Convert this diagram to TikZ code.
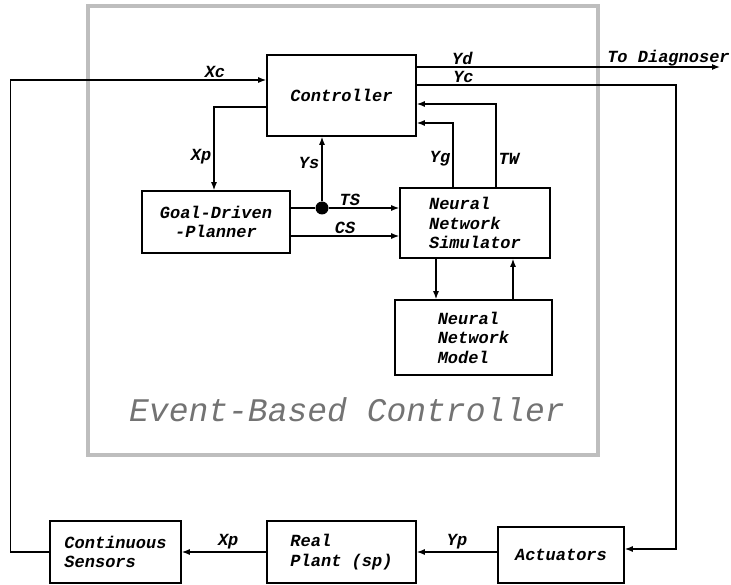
\documentclass[tikz,border=0pt]{standalone}
\usepackage{fontspec}
\newfontfamily\monofam{Liberation Mono}
\usetikzlibrary{arrows.meta,positioning}
\definecolor{FrameGray}{RGB}{190,190,190}
\definecolor{TitleGray}{RGB}{115,115,115}
\newcommand\diagfont{\monofam\bfseries\itshape\fontsize{17}{19.5}\selectfont}
\tikzset{
  block/.style={draw,line width=1.6pt,inner sep=0pt,align=left,
    font=\diagfont},
  lbl/.style={font=\diagfont,inner sep=2pt},
  link/.style={line width=1.3pt},
  arrow/.style={-{Latex[length=8pt,width=6pt]},line width=1.3pt},
  dot/.style={circle,fill,inner sep=0pt,minimum size=13pt}
}
\begin{document}
\begin{tikzpicture}[x=1pt,y=-1pt]
      \useasboundingbox (0,0) rectangle (731,585);
      % event-based controller frame
      \node[draw=FrameGray,line width=4pt,minimum width=510,
        minimum height=449] (ebc) at (343,230.5) {};
      \node[font=\monofam\itshape\fontsize{33}{36}\selectfont,
        text=TitleGray] (ebctitle) at (347,410) {Event-Based Controller};

      \node[block,minimum width=149,minimum height=81] (ctrl)
        at (341.5,95.5) {Controller};
      \node[block,align=center,minimum width=148,minimum height=62] (plan)
        at (216,222) {Goal-Driven\\-Planner};
      \node[block,minimum width=150,minimum height=70] (sim)
        at (475,223) {Neural\\Network\\Simulator};
      \node[block,minimum width=157,minimum height=75] (model)
        at (473.5,337.5) {Neural\\Network\\Model};
      \node[block,minimum width=131,minimum height=62] (sens)
        at (115.5,552) {Continuous\\Sensors};
      \node[block,minimum width=149,minimum height=62] (plant)
        at (341.5,552) {Real\\Plant (sp)};
      \node[block,minimum width=126,minimum height=56] (act)
        at (561,555) {Actuators};

      \node[dot] (tsdot) at (322,208) {};
      \coordinate (csout) at ([yshift=-14pt]plan.east);
      \coordinate (simdown) at ([xshift=-39pt]sim.south);
      \coordinate (simup) at ([xshift=38pt]sim.south);
      \coordinate (diag) at (720,67);
      \coordinate (ycturn) at (676,85);

      \draw[arrow] (sens.west) -- ++(-39,0)
        |- node[lbl,above,pos=0.9]{Xc} ([yshift=15.5pt]ctrl.west);
      \draw[arrow] ([yshift=-11.5pt]ctrl.west)
        -| node[lbl,left,pos=0.8]{Xp} ([xshift=-2pt]plan.north);
      \draw[link] ([yshift=14pt]plan.east) -- (tsdot);
      \draw[arrow] (tsdot) -- node[lbl,left,pos=0.6]{Ys} (ctrl.south -| tsdot);
      \draw[arrow] (tsdot) -- node[lbl,above,pos=0.3]{TS} (sim.west |- tsdot);
      \draw[arrow] (csout) -- node[lbl,above]{CS} (sim.west |- csout);
      \draw[arrow] ([yshift=28.5pt]ctrl.east)
        -- node[lbl,above,pos=0.15]{Yd}
        node[lbl,above,pos=0.83,inner sep=0pt]{To Diagnoser} (diag);
      \draw[arrow] ([yshift=10.5pt]ctrl.east)
        -- node[lbl,above,pos=0.18]{Yc} (ycturn) |- ([yshift=6pt]act.east);
      \draw[arrow] ([xshift=-22pt]sim.north)
        |- node[lbl,left,pos=0.22]{Yg} ([yshift=-27.5pt]ctrl.east);
      \draw[arrow] ([xshift=21pt]sim.north)
        |- node[lbl,right,pos=0.17]{TW} ([yshift=-8.5pt]ctrl.east);
      \draw[arrow] (simdown) -- (model.north -| simdown);
      \draw[arrow] (model.north -| simup) -- (simup);
      \draw[arrow] ([yshift=3pt]act.west) -- node[lbl,above]{Yp} (plant.east);
      \draw[arrow] (plant.west) -- node[lbl,above,pos=0.45]{Xp} (sens.east);
    \end{tikzpicture}
\end{document}
